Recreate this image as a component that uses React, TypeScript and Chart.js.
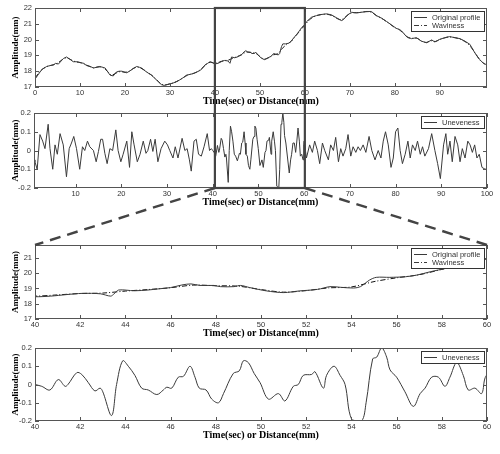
import React, { useEffect, useRef } from 'react';
import { Chart, registerables } from 'chart.js';
Chart.register(...registerables);

// ---------------- DATA ----------------
const profileX = [0, 0.5, 1.5, 2.6, 3.3, 4.1, 4.6, 5.2, 6.3, 7.0, 7.8, 8.5, 9.3, 10.0, 10.8, 11.5, 12.3, 13.0, 13.7, 14.4, 15.0, 15.6, 16.2, 16.7, 17.4, 18.1, 18.7, 19.3, 20.4, 21.0, 21.5, 22.6, 23.2, 23.7, 24.8, 25.9, 27.0, 28.1, 28.7, 29.3, 30.0, 30.7, 31.5, 32.2, 33.0, 33.7, 34.5, 35.2, 36.0, 36.7, 37.3, 37.8, 38.4, 38.9, 39.4,
  40.0, 40.7, 41.4, 42.1, 42.9, 43.35, 43.5, 43.7, 44.4, 45.0, 45.5, 46.0, 46.5, 46.9, 47.3, 47.9, 48.2, 48.8, 49.1, 49.5, 50.25, 51.0, 51.7, 52.5, 53.05, 53.5, 54.1, 54.4, 54.8, 55.1, 55.7, 56.4, 56.9, 57.5, 58.2, 58.9, 59.3, 60.0,
  60.4, 61.0, 61.5, 62.6, 63.7, 64.8, 65.9, 67.1, 68.2, 68.7, 69.3, 70.4, 71.5, 72.6, 73.7, 74.8, 75.9, 77.1, 78.2, 79.3, 80.4, 81.0, 81.5, 82.6, 83.7, 84.8, 85.9, 87.1, 88.2, 88.9, 90.0, 91.1, 92.2, 93.4, 94.5, 95.6, 96.7, 97.8, 98.9, 99.7, 100.5];
const profileY = [17.5, 17.7, 18.1, 18.3, 18.35, 18.4, 18.5, 18.45, 18.8, 18.9, 18.75, 18.6, 18.6, 18.55, 18.5, 18.35, 18.3, 18.2, 18.25, 18.3, 18.25, 18.2, 17.95, 17.75, 17.7, 17.95, 18.0, 18.0, 17.9, 18.0, 18.1, 18.3, 18.25, 18.2, 17.95, 17.75, 17.45, 17.15, 17.1, 17.15, 17.2, 17.25, 17.35, 17.45, 17.6, 17.75, 17.8, 17.85, 17.95, 18.05, 18.2, 18.4, 18.5, 18.6, 18.55,
  18.46, 18.5, 18.6, 18.68, 18.65, 18.5, 18.65, 18.9, 18.85, 18.9, 18.98, 19.06, 19.23, 19.3, 19.2, 19.2, 19.12, 19.12, 19.2, 19.06, 18.84, 18.73, 18.84, 18.94, 19.12, 19.08, 19.03, 19.12, 19.55, 19.73, 19.73, 19.77, 19.88, 20.1, 20.33, 20.6, 20.77, 20.95,
  21.14, 21.3, 21.42, 21.52, 21.59, 21.63, 21.57, 21.37, 21.2, 21.3, 21.52, 21.73, 21.69, 21.73, 21.78, 21.78, 21.52, 21.35, 21.14, 20.92, 20.7, 20.65, 20.55, 20.19, 20.06, 20.12, 19.9, 19.8, 19.98, 19.85, 20.02, 20.12, 20.19, 20.12, 20.06, 19.9, 19.7, 19.16, 18.73, 18.5, 18.4];

const wavinessX = [0, 1, 2, 3, 4, 5, 6, 7, 8, 9, 10, 11, 12, 13, 14, 15, 16, 17, 18, 19, 20, 21, 22, 23, 24, 25, 26, 27, 28, 29, 30, 31, 32, 33, 34, 35, 36, 37, 38, 39, 40, 41, 42, 43, 44, 45, 46, 47, 48, 49, 50, 51, 52, 53, 54, 55, 56, 57, 58, 59, 60, 61, 62, 63, 64, 65, 66, 67, 68, 69, 70, 71, 72, 73, 74, 75, 76, 77, 78, 79, 80, 81, 82, 83, 84, 85, 86, 87, 88, 89, 90, 91, 92, 93, 94, 95, 96, 97, 98, 99, 100];
const wavinessY = [17.55, 17.95, 18.2, 18.33, 18.4, 18.5, 18.72, 18.85, 18.72, 18.6, 18.55, 18.45, 18.32, 18.22, 18.27, 18.25, 18.02, 17.75, 17.88, 17.98, 17.93, 18.0, 18.2, 18.25, 18.12, 17.93, 17.73, 17.47, 17.2, 17.13, 17.2, 17.28, 17.42, 17.6, 17.76, 17.84, 17.95, 18.15, 18.42, 18.57, 18.5, 18.58, 18.67, 18.7, 18.83, 18.93, 19.05, 19.22, 19.18, 19.15, 18.93, 18.76, 18.86, 19.04, 19.1, 19.45, 19.7, 19.9, 20.25, 20.58, 20.92, 21.25, 21.45, 21.55, 21.6, 21.6, 21.52, 21.36, 21.25, 21.42, 21.65, 21.7, 21.71, 21.75, 21.77, 21.7, 21.5, 21.36, 21.17, 20.97, 20.76, 20.62, 20.38, 20.12, 20.08, 20.08, 19.9, 19.82, 19.93, 19.88, 20.0, 20.1, 20.17, 20.14, 20.08, 19.97, 19.8, 19.5, 19.08, 18.68, 18.45];

const unevenX = [0.9, 1.1, 1.6, 2.2, 2.8, 3.3, 4.0, 4.4, 5.0, 5.5, 6.0, 6.6, 7.3, 8.0, 8.6, 9.1, 9.6, 10.2, 10.9, 11.5, 12.0, 12.6, 13.1, 13.9, 14.5, 15.0, 15.5, 15.9, 16.4, 16.9, 17.5, 18.1, 18.8, 19.3, 19.9, 20.4, 21.2, 21.8, 22.3, 22.8, 23.5, 24.1, 24.8, 25.4, 25.8, 26.4, 26.9, 27.4, 28.0, 28.7, 29.5, 30.1, 30.6, 31.3, 31.8, 32.4, 33.3, 33.9, 34.4, 34.9, 35.3, 35.9, 36.4, 36.9, 37.5, 38.1, 38.8, 39.3, 39.7,
  40.0, 40.3, 40.66, 41.03, 41.33, 41.46, 41.85, 42.07, 42.36, 42.65, 42.88, 43.0, 43.39, 43.61, 43.88, 44.13, 44.42, 44.72, 45.01, 45.39, 45.68, 45.83, 46.05, 46.34, 46.57, 46.86, 47.08, 47.27, 47.57, 47.82, 48.12, 48.34, 48.77, 49.04, 49.22, 49.44, 49.7, 49.96, 50.33, 50.77, 51.06, 51.43, 51.65, 51.87, 52.24, 52.39, 52.76, 52.9, 53.23, 53.5, 53.72, 54.01, 54.45, 54.65, 54.94, 55.12, 55.34, 55.56, 55.71, 56.0, 56.37, 56.74, 57.04, 57.26, 57.55, 57.85, 58.14, 58.36, 58.66, 58.95, 59.17, 59.47, 59.76, 59.9, 60.0,
  60.5, 61.2, 61.8, 62.3, 62.9, 63.4, 64.0, 64.5, 65.3, 65.8, 66.4, 66.9, 67.5, 68.0, 68.5, 69.1, 69.6, 70.2, 70.7, 71.3, 71.8, 72.3, 72.9, 73.5, 74.2, 74.8, 75.5, 76.2, 76.8, 77.3, 77.8, 78.4, 79.0, 79.5, 80.0, 80.5, 81.0, 81.5, 82.1, 82.7, 83.2, 83.7, 84.3, 84.8, 85.4, 85.9, 86.4, 87.2, 87.9, 88.6, 89.2, 89.8, 90.5, 91.0, 91.4, 91.9, 92.4, 93.0, 93.6, 94.1, 94.6, 95.2, 95.8, 96.3, 96.8, 97.3, 97.8, 98.3, 98.9, 99.6, 100.0];
const unevenY = [-0.05, -0.06, -0.1, 0.085, 0.05, 0.01, 0.14, 0.01, -0.1, 0.03, -0.02, 0.09, 0.03, -0.14, 0.01, 0.04, 0.075, 0.01, -0.1, 0.02, 0.0, 0.05, 0.02, 0.0, -0.06, -0.005, 0.06, 0.06, -0.015, -0.07, 0.01, 0.0, 0.11, 0.0, -0.06, -0.02, 0.05, -0.09, 0.1, 0.03, -0.06, -0.02, 0.05, -0.015, 0.0, 0.06, -0.005, 0.06, -0.06, 0.01, 0.05, 0.03, 0.0, -0.04, 0.02, -0.04, 0.065, 0.0, 0.01, -0.05, -0.11, 0.05, 0.06, -0.02, -0.03, 0.02, 0.09, 0.0, 0.01,
  0.0, -0.01, -0.03, 0.027, -0.01, 0.0, 0.065, 0.055, 0.01, -0.035, -0.02, -0.04, -0.17, 0.0, 0.13, 0.1, 0.05, -0.02, -0.03, -0.055, -0.03, -0.015, -0.02, 0.04, 0.045, 0.1, 0.04, -0.02, -0.03, -0.08, -0.1, -0.05, 0.06, 0.075, 0.13, 0.12, 0.06, 0.01, -0.08, -0.05, -0.09, -0.01, 0.0, 0.05, 0.055, 0.07, -0.02, 0.05, 0.1, 0.05, 0.0, -0.19, -0.2, -0.1, 0.14, 0.15, 0.2, 0.15, 0.08, 0.04, -0.04, -0.12, -0.05, -0.02, 0.04, 0.04, -0.01, 0.04, 0.12, 0.05, -0.03, -0.02, -0.05, 0.03, 0.05,
  -0.04, 0.03, -0.01, 0.05, 0.0, -0.07, 0.04, 0.0, -0.05, 0.03, 0.0, 0.07, -0.06, 0.01, -0.03, 0.01, 0.085, -0.03, 0.02, -0.01, 0.02, 0.0, 0.03, -0.01, 0.075, 0.0, -0.05, 0.0, -0.04, 0.05, 0.1, 0.03, -0.09, -0.04, 0.1, 0.12, 0.0, -0.07, -0.02, 0.05, -0.04, 0.03, 0.0, 0.05, -0.02, 0.02, -0.03, 0.01, 0.09, 0.0, -0.07, -0.15, 0.03, 0.09, -0.02, 0.05, -0.06, 0.075, 0.03, -0.06, 0.01, -0.04, 0.05, 0.03, -0.01, 0.03, -0.04, -0.02, -0.09, -0.1, -0.095];

const zoomRange = [40, 60];
const fullTicksX1 = [0, 10, 20, 30, 40, 50, 60, 70, 80, 90];
const fullTicksX2 = [10, 20, 30, 40, 50, 60, 70, 80, 90, 100];
const zoomTicksX = [40, 42, 44, 46, 48, 50, 52, 54, 56, 58, 60];
const profileTicksY1 = [17, 18, 19, 20, 21, 22];
const profileTicksY3 = [17, 18, 19, 20, 21];
const unevenTicksY = [-0.2, -0.1, 0, 0.1, 0.2];

const seriesLabels = ['Original profile', 'Waviness', 'Uneveness'];
const xTitle = 'Time(sec) or Distance(mm)';
const yTitle = 'Amplitude(mm)';

// ---------------- STYLE ----------------
const W = 500;
const H = 454;
const SANS = "'Liberation Sans', Arial, sans-serif";
const SERIF = "'Liberation Serif', 'Times New Roman', serif";
const LINE = '#3a3a3a';
const FRAME = '#555555';
const WAVE_DASH = [5, 2, 1, 2];

const pts = (xs: number[], ys: number[]) => xs.map((x, i) => ({ x, y: ys[i] }));

const framePlugin = {
  id: 'matlabFrame',
  afterDatasetsDraw(chart: any) {
    const { ctx, chartArea: a, scales } = chart;
    ctx.save();
    ctx.strokeStyle = FRAME;
    ctx.lineWidth = 1;
    ctx.setLineDash([]);
    ctx.strokeRect(Math.round(a.left) + 0.5, Math.round(a.top) + 0.5, Math.round(a.right - a.left) - 1, Math.round(a.bottom - a.top) - 1);
    const tl = 4;
    ctx.beginPath();
    scales.x.ticks.forEach((t: any) => {
      const p = Math.round(scales.x.getPixelForValue(t.value)) + 0.5;
      ctx.moveTo(p, a.bottom); ctx.lineTo(p, a.bottom - tl);
      ctx.moveTo(p, a.top); ctx.lineTo(p, a.top + tl);
    });
    scales.y.ticks.forEach((t: any) => {
      const p = Math.round(scales.y.getPixelForValue(t.value)) + 0.5;
      ctx.moveTo(a.left, p); ctx.lineTo(a.left + tl, p);
      ctx.moveTo(a.right, p); ctx.lineTo(a.right - tl, p);
    });
    ctx.stroke();

    // legend box (MATLAB style, top-right inside the axes)
    const items = chart.data.datasets.map((d: any) => ({ label: d.label, dash: d.borderDash || [] }));
    ctx.font = `7.5px ${SANS}`;
    const tw = Math.max(...items.map((i: any) => ctx.measureText(i.label).width));
    const bw = Math.round(21 + tw + 4);
    const bh = items.length * 8 + 4;
    const bx = Math.round(a.right - 3 - bw);
    const by = Math.round(a.top + 3);
    ctx.fillStyle = '#ffffff';
    ctx.fillRect(bx, by, bw, bh);
    ctx.strokeStyle = '#333';
    ctx.strokeRect(bx + 0.5, by + 0.5, bw, bh);
    items.forEach((it: any, i: number) => {
      const cy = by + 6 + i * 8;
      ctx.strokeStyle = LINE;
      ctx.setLineDash(it.dash);
      ctx.beginPath();
      ctx.moveTo(bx + 3, cy + 0.5);
      ctx.lineTo(bx + 16, cy + 0.5);
      ctx.stroke();
      ctx.setLineDash([]);
      ctx.fillStyle = '#333';
      ctx.textBaseline = 'middle';
      ctx.textAlign = 'left';
      ctx.fillText(it.label, bx + 21, cy + 0.5);
    });
    ctx.restore();
  },
};

function makeOptions(p: {
  xMin: number; xMax: number; yMin: number; yMax: number;
  xTicks: number[]; yTicks: number[];
  top: number; bottom: number; yWidth: number;
}) {
  return {
    responsive: false,
    maintainAspectRatio: false,
    animation: false as const,
    events: [],
    layout: { padding: { left: 0, top: p.top, right: 13, bottom: H - p.bottom - 20 } },
    plugins: { legend: { display: false }, tooltip: { enabled: false } },
    elements: { point: { radius: 0 } },
    scales: {
      x: {
        type: 'linear' as const,
        min: p.xMin,
        max: p.xMax,
        grid: { display: false, drawTicks: false },
        border: { display: false },
        afterBuildTicks: (s: any) => { s.ticks = p.xTicks.map((v) => ({ value: v })); },
        afterFit: (s: any) => { s.height = 20; },
        ticks: { font: { family: SANS, size: 7.5 }, color: '#333', padding: 1, maxRotation: 0, autoSkip: false, callback: (v: any) => String(v) },
        title: { display: true, text: xTitle, color: '#000', font: { family: SERIF, size: 10, weight: 'bold' as const }, padding: { top: 0, bottom: 0 } },
      },
      y: {
        min: p.yMin,
        max: p.yMax,
        grid: { display: false, drawTicks: false },
        border: { display: false },
        afterBuildTicks: (s: any) => { s.ticks = p.yTicks.map((v) => ({ value: v })); },
        afterFit: (s: any) => { s.width = p.yWidth; },
        ticks: { font: { family: SANS, size: 7.5 }, color: '#333', padding: 3, autoSkip: false, callback: (v: any) => String(v) },
        title: { display: true, text: yTitle, color: '#000', font: { family: SERIF, size: 9, weight: 'bold' as const }, padding: { top: 10, bottom: 0 } },
      },
    },
  };
}

export default function App() {
  const refs = [useRef<HTMLCanvasElement>(null), useRef<HTMLCanvasElement>(null), useRef<HTMLCanvasElement>(null), useRef<HTMLCanvasElement>(null)];

  useEffect(() => {
    const charts: Chart[] = [];
    const profileDatasets = (tension: number) => [
      { label: seriesLabels[0], data: pts(profileX, profileY), borderColor: LINE, borderWidth: 1, tension },
      { label: seriesLabels[1], data: pts(wavinessX, wavinessY), borderColor: '#111', borderWidth: 1, borderDash: WAVE_DASH, tension: 0.3 },
    ];
    const unevenDatasets = (tension: number) => [
      { label: seriesLabels[2], data: pts(unevenX, unevenY), borderColor: LINE, borderWidth: 1, tension },
    ];

    const zoomPlugin = {
      id: 'zoomBox',
      afterDraw(chart: any) {
        const [c1, c2, c3] = charts;
        if (!c1 || !c2 || !c3) return;
        const ctx = chart.ctx;
        const x0 = c1.scales.x.getPixelForValue(zoomRange[0]);
        const x1 = c1.scales.x.getPixelForValue(zoomRange[1]);
        const top = c1.chartArea.top;
        const bot = c2.chartArea.bottom;
        ctx.save();
        ctx.strokeStyle = '#444';
        ctx.lineWidth = 2.2;
        ctx.strokeRect(x0, top, x1 - x0, bot - top);
        ctx.setLineDash([11, 7]);
        ctx.lineWidth = 2.4;
        ctx.beginPath();
        ctx.moveTo(x0, bot);
        ctx.lineTo(c3.chartArea.left, c3.chartArea.top);
        ctx.moveTo(x1, bot);
        ctx.lineTo(c3.chartArea.right, c3.chartArea.top);
        ctx.stroke();
        ctx.restore();
      },
    };

    charts.push(new Chart(refs[0].current!, {
      type: 'line',
      data: { datasets: profileDatasets(0) as any },
      options: makeOptions({ xMin: 0, xMax: 100.5, yMin: 17, yMax: 22, xTicks: fullTicksX1, yTicks: profileTicksY1, top: 8, bottom: 87, yWidth: 35 }) as any,
      plugins: [framePlugin],
    }));
    charts.push(new Chart(refs[1].current!, {
      type: 'line',
      data: { datasets: unevenDatasets(0) as any },
      options: makeOptions({ xMin: 0.9, xMax: 100, yMin: -0.2, yMax: 0.2, xTicks: fullTicksX2, yTicks: unevenTicksY, top: 113, bottom: 188, yWidth: 34 }) as any,
      plugins: [framePlugin],
    }));
    charts.push(new Chart(refs[2].current!, {
      type: 'line',
      data: { datasets: profileDatasets(0.3) as any },
      options: makeOptions({ xMin: zoomRange[0], xMax: zoomRange[1], yMin: 17, yMax: 21.85, xTicks: zoomTicksX, yTicks: profileTicksY3, top: 245, bottom: 319, yWidth: 35 }) as any,
      plugins: [framePlugin],
    }));
    charts.push(new Chart(refs[3].current!, {
      type: 'line',
      data: { datasets: unevenDatasets(0.35) as any },
      options: makeOptions({ xMin: zoomRange[0], xMax: zoomRange[1], yMin: -0.2, yMax: 0.2, xTicks: zoomTicksX, yTicks: unevenTicksY, top: 348, bottom: 421, yWidth: 35 }) as any,
      plugins: [framePlugin, zoomPlugin],
    }));

    return () => { charts.forEach((c) => c.destroy()); };
  }, []);

  const cs: React.CSSProperties = { position: 'absolute', left: 0, top: 0, width: W, height: H };
  return (
    <div style={{ position: 'absolute', left: 0, top: 0, width: W, height: H, background: '#fff' }}>
      {refs.map((r, i) => (
        <canvas key={i} ref={r} width={W} height={H} style={cs} />
      ))}
    </div>
  );
}
